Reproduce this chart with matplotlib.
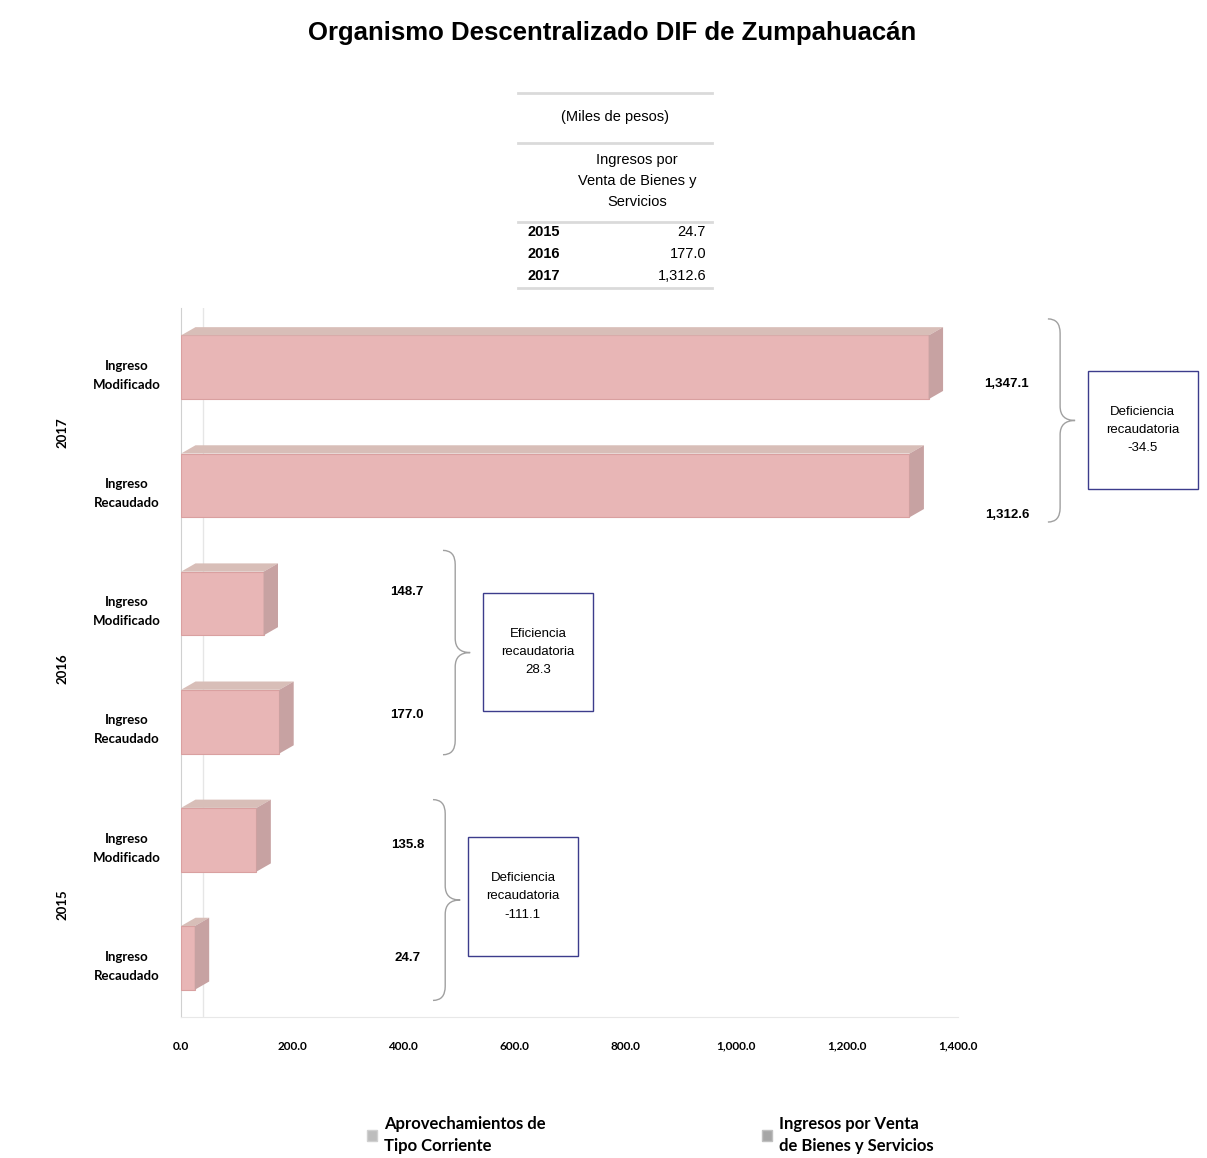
import matplotlib.pyplot as plt
from matplotlib.patches import Polygon, Rectangle, PathPatch, Patch
from matplotlib.path import Path
from matplotlib.lines import Line2D
import matplotlib.ticker as mticker
import numpy as np

plt.close('all')

# datos (miles de pesos)
anios = ['2015', '2016', '2017']
ingreso_modificado = [135.8, 148.7, 1347.1]
ingreso_recaudado = [24.7, 177.0, 1312.6]
aprovechamientos = [0.0, 0.0, 0.0]
tipo_texto = ['Deficiencia', 'Eficiencia', 'Deficiencia']
categorias = ['Ingreso\nRecaudado', 'Ingreso\nModificado']
leyenda = ['Aprovechamientos de\nTipo Corriente', 'Ingresos por Venta\nde Bienes y Servicios']
tabla_titulo = 'Ingresos por\nVenta de Bienes y\nServicios'

# posiciones de las etiquetas / llaves / cajas (por año)
x_etiqueta = [408, 407, 1488]
off_etiqueta = [(0.0, -0.04), (0.06, 0.10), (-0.25, -0.14)]  # (recaudado, modificado)
x_llave = [476, 494, 1584]
y_llave = [(-0.36, 1.34), (1.72, 3.45), (3.69, 5.41)]
x_caja = [517, 544, 1634]
y_caja = [0.02, 2.09, 3.97]

rosa = '#E8B6B6'
rosa_top = '#D8BEB8'
rosa_lado = '#C7A2A2'
fuente_num = ['Liberation Sans Narrow', 'Liberation Sans']

fig = plt.figure(figsize=(12.07, 11.58), dpi=100)
ax = fig.add_axes([0.15, 0.1218, 0.6437, 0.612])

valores = []
for r, m in zip(ingreso_recaudado, ingreso_modificado):
    valores += [r, m]
pos = np.arange(len(valores))
h = 0.54
dx, dy = 26, 0.07

ax.barh(pos, aprovechamientos + aprovechamientos, height=h, color='#A6A6A6')
ax.barh(pos, valores, height=h, color=rosa, edgecolor='#D9A0A0', linewidth=0.8, zorder=3)
for y, v in zip(pos, valores):
    top = [(0, y + h / 2), (v, y + h / 2), (v + dx, y + h / 2 + dy), (dx, y + h / 2 + dy)]
    lado = [(v, y - h / 2), (v + dx, y - h / 2 + dy), (v + dx, y + h / 2 + dy), (v, y + h / 2)]
    ax.add_patch(Polygon(top, closed=True, facecolor=rosa_top, edgecolor='none', zorder=3))
    ax.add_patch(Polygon(lado, closed=True, facecolor=rosa_lado, edgecolor='none', zorder=3))

ax.set_xlim(0, 1400)
ax.set_ylim(-0.5, 5.5)
ax.axvline(40, color='#E6E6E6', lw=1, zorder=1)
for s in ['top', 'right']:
    ax.spines[s].set_visible(False)
ax.spines['left'].set_color('#D0D0D0')
ax.spines['bottom'].set_color('#E8E8E8')
ax.set_xticks(np.arange(0, 1401, 200))
ax.xaxis.set_major_formatter(mticker.FuncFormatter(lambda v, p: f'{v:,.1f}'))
ax.tick_params(axis='x', length=0, pad=17)
for lab in ax.get_xticklabels():
    lab.set_fontfamily('Lato')
    lab.set_fontweight('bold')
    lab.set_fontsize(8.5)
ax.set_yticks([])

trans = ax.get_yaxis_transform()
for i, y in enumerate(pos):
    ax.text(-0.07, y - 0.07, categorias[i % 2], transform=trans, ha='center', va='center',
            fontsize=9.5, fontweight='bold', family='Lato', linespacing=1.7)
for k, a in enumerate(anios):
    ax.text(-0.153, 2 * k + 0.45, a, transform=trans, rotation=90, ha='center', va='center',
            fontsize=9.5, fontweight='bold', family='Lato')


def llave(ax, x, y0, y1, w, cw, c):
    ym = (y0 + y1) / 2
    verts = [(x - cw, y1), (x, y1), (x, y1 - c),
             (x, ym + c), (x, ym), (x + w, ym),
             (x, ym), (x, ym - c),
             (x, y0 + c), (x, y0), (x - cw, y0)]
    codes = [Path.MOVETO, Path.CURVE3, Path.CURVE3,
             Path.LINETO, Path.CURVE3, Path.CURVE3,
             Path.CURVE3, Path.CURVE3,
             Path.LINETO, Path.CURVE3, Path.CURVE3]
    ax.add_patch(PathPatch(Path(verts, codes), facecolor='none', edgecolor='#A0A0A0',
                           lw=1.0, clip_on=False))


for k in range(len(anios)):
    yr, ym_ = 2 * k, 2 * k + 1
    v_r, v_m = ingreso_recaudado[k], ingreso_modificado[k]
    ax.text(x_etiqueta[k], yr + off_etiqueta[k][0], f'{v_r:,.1f}', ha='center', va='center',
            fontsize=9.5, family=fuente_num, fontweight='semibold', clip_on=False)
    ax.text(x_etiqueta[k], ym_ + off_etiqueta[k][1], f'{v_m:,.1f}', ha='center', va='center',
            fontsize=9.5, family=fuente_num, fontweight='semibold', clip_on=False)
    llave(ax, x_llave[k], y_llave[k][0], y_llave[k][1], 27, 22, 0.12)
    dif = v_r - v_m
    ax.add_patch(Rectangle((x_caja[k], y_caja[k]), 198, 1.0, facecolor='white',
                           edgecolor='#3C3C8C', lw=1.0, clip_on=False, zorder=4))
    ax.text(x_caja[k] + 99, y_caja[k] + 0.5, f'{tipo_texto[k]}\nrecaudatoria\n{dif:,.1f}',
            ha='center', va='center', fontsize=9.5, family=fuente_num, linespacing=1.7,
            clip_on=False, zorder=5)

# titulo
fig.text(0.507, 0.9715, 'Organismo Descentralizado DIF de Zumpahuacán', ha='center',
         va='center', fontsize=18.5, fontweight='bold', family='Liberation Sans')

# tabla
W, H = 1207, 1158
def fx(px):
    return px / W
def fy(py):
    return 1 - py / H

for py in [93, 143, 222, 288]:
    fig.add_artist(Line2D([fx(518), fx(712)], [fy(py), fy(py)], color='#DADADA', lw=2))
fig.text(fx(615), fy(117), '(Miles de pesos)', ha='center', va='center', fontsize=10.5,
         family='Liberation Sans')
fig.text(fx(637), fy(181), tabla_titulo, ha='center', va='center', fontsize=10.5,
         family='Liberation Sans', linespacing=1.6)
tabla_vals = ingreso_recaudado
for k, a in enumerate(anios):
    py = 232 + 22 * k
    fig.text(fx(528), fy(py), a, ha='left', va='center', fontsize=10.5, fontweight='bold',
             family='Liberation Sans')
    fig.text(fx(706), fy(py), f'{tabla_vals[k]:,.1f}', ha='right', va='center', fontsize=10.5,
             family='Liberation Sans')

handles = [Patch(facecolor='#BDBDBD', edgecolor='#D0D0D0'),
           Patch(facecolor='#A6A6A6', edgecolor='#C0C0C0')]
fig.legend(handles, leyenda, ncol=2, loc='center', bbox_to_anchor=(0.539, 0.0199),
           frameon=False, handlelength=0.6, handleheight=0.6, handletextpad=0.4,
           columnspacing=13,
           prop={'family': 'Lato', 'weight': 'bold', 'size': 12})
for t in fig.legends[0].get_texts():
    t.set_linespacing(1.45)

fig.savefig('out.png', dpi=100)
